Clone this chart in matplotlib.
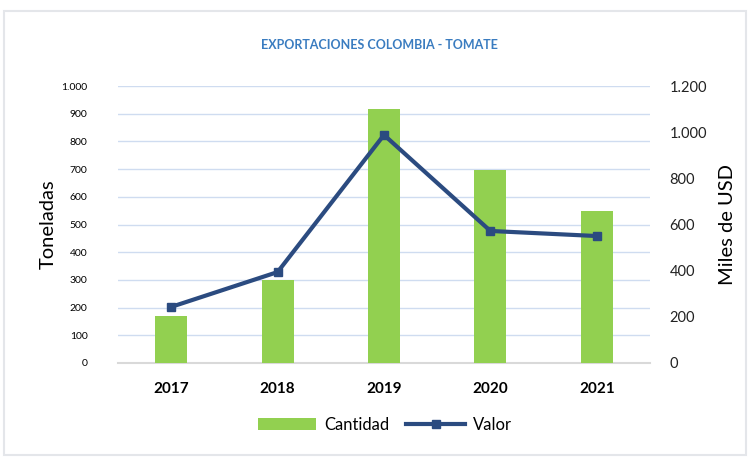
import matplotlib.pyplot as plt
import numpy as np

years = ["2017", "2018", "2019", "2020", "2021"]
cantidad = [170, 300, 917, 697, 549]
valor = [243, 394, 988, 572, 550]

plt.rcParams['font.family'] = ['Lato', 'DejaVu Sans']

fig = plt.figure(figsize=(7.49, 4.57), dpi=100)
fig.patches.append(plt.Rectangle((0.006, 0.005), 0.99, 0.97, transform=fig.transFigure,
                                 fill=False, edgecolor="#e4e6ea", linewidth=1.5))
ax = fig.add_axes([118 / 749, 1 - 363 / 457, 532 / 749, 277 / 457])
ax2 = ax.twinx()

x = np.arange(len(years))
ax.bar(x, cantidad, width=0.3, color="#92D050", label="Cantidad", zorder=3)
ax2.plot(x, valor, color="#2B4B80", linewidth=3, marker="s", markersize=6, label="Valor", zorder=4)

ax.set_xlim(-0.5, 4.5)
ax.set_ylim(0, 1000)
ax.set_yticks(range(0, 1001, 100))
ax.set_yticklabels([f"{v:,}".replace(",", ".") for v in range(0, 1001, 100)], fontsize=7.5)
ax2.set_ylim(0, 1200)
ax2.set_yticks(range(0, 1201, 200))
ax2.set_yticklabels([f"{v:,}".replace(",", ".") for v in range(0, 1201, 200)], fontsize=10.5, color="#222222")
ax.grid(axis="y", color="#cfdcf0", linewidth=1, zorder=0)
ax.set_xticks(x)
ax.set_xticklabels(years, fontsize=11, fontweight="bold")
ax.tick_params(axis="x", length=0, pad=14)
ax.tick_params(axis="y", length=0, pad=22)
ax2.tick_params(axis="y", length=0, pad=14)
for a in (ax, ax2):
    for s in a.spines.values():
        s.set_visible(False)
ax.spines["bottom"].set_visible(True)
ax.spines["bottom"].set_color("#d9d9d9")
ax.spines["bottom"].set_linewidth(1.5)
ax.set_zorder(ax2.get_zorder() - 1)
ax.patch.set_visible(False)

ax.set_ylabel("Toneladas", fontsize=14.5, labelpad=3)
ax2.set_ylabel("Miles de USD", fontsize=14.5, labelpad=9)
fig.text(379 / 749, 1 - 45 / 457, "EXPORTACIONES COLOMBIA - TOMATE", ha="center", va="center",
         fontsize=9, fontweight="bold", color="#3a7cc0")

h1, l1 = ax.get_legend_handles_labels()
h2, l2 = ax2.get_legend_handles_labels()
fig.legend(h1 + h2, l1 + l2, loc="center", bbox_to_anchor=(385 / 749, 1 - 425 / 457), ncol=2,
           frameon=False, fontsize=12, handlelength=3.5, columnspacing=1.0, handletextpad=0.5)

fig.savefig("out.png", dpi=100)
